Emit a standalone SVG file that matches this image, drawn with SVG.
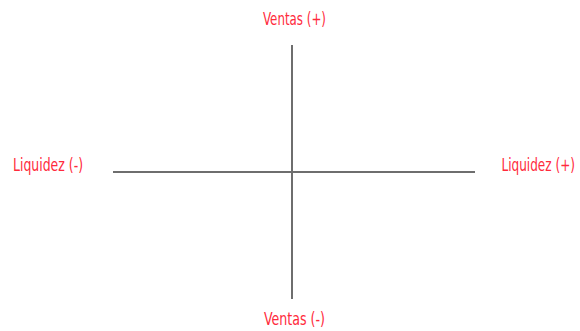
<svg xmlns="http://www.w3.org/2000/svg" width="580" height="331" viewBox="0 0 580 331">
<style>
.axis{stroke:#6e6e6e;stroke-width:2;fill:none}
.lbl{font-family:"DejaVu Sans","Liberation Sans",sans-serif;font-stretch:condensed;font-size:17px;fill:#ff2a3c}
</style>
<rect width="580" height="331" fill="#ffffff"/>
<g id="connectors">
<line class="axis" x1="113" y1="172" x2="475" y2="172"/>
<line class="axis" x1="292" y1="45" x2="292" y2="299"/>
</g>
<g id="ventas-pos"><text class="lbl" x="263" y="25" textLength="63" lengthAdjust="spacingAndGlyphs">Ventas (+)</text></g>
<g id="ventas-neg"><text class="lbl" x="264" y="325" textLength="61" lengthAdjust="spacingAndGlyphs">Ventas (-)</text></g>
<g id="liquidez-neg"><text class="lbl" x="13" y="171" textLength="70" lengthAdjust="spacingAndGlyphs">Liquidez (-)</text></g>
<g id="liquidez-pos" transform="translate(575,171) scale(0.8,1)"><text class="lbl" x="0" y="0" text-anchor="end" textLength="92" lengthAdjust="spacingAndGlyphs">Liquidez (+)</text></g>
</svg>
